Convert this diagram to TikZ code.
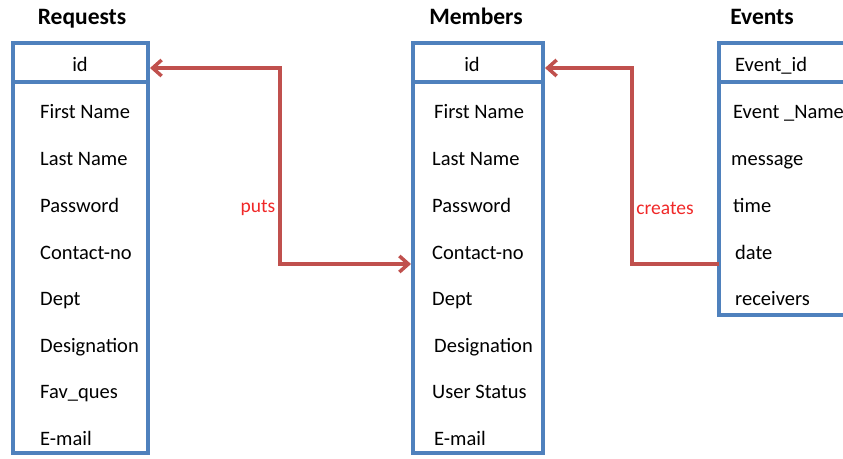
\documentclass[tikz,border=0pt]{standalone}
\usepackage{fontspec}
\setmainfont{Carlito}
\usetikzlibrary{arrows.meta,shadows}
\definecolor{tblue}{HTML}{4F81BD}
\definecolor{tred}{HTML}{C0504D}
\definecolor{lred}{HTML}{F02828}
\begin{document}
\begin{tikzpicture}[x=1pt,y=-1pt,
  table/.style={draw=tblue,line width=3.5pt,fill=white,anchor=north west,inner sep=0,outer sep=0,
    drop shadow={opacity=0.22,shadow xshift=1.5pt,shadow yshift=-2pt}},
  field/.style={anchor=west,inner sep=0,text height=13pt,text depth=4pt,
    font=\fontsize{20.5}{24}\selectfont},
  keyfield/.style={inner sep=0,text height=13pt,text depth=4pt,
    font=\fontsize{20.5}{24}\selectfont},
  title/.style={inner sep=0,text height=15pt,text depth=5pt,
    font=\bfseries\fontsize{23.5}{28}\selectfont},
  link/.style={draw=tred,line width=3.5pt,line join=miter},
  tip/.tip={Straight Barb[length=9pt,width=16pt,line width=3.5pt]},
  rel/.style={inner sep=0,text=lred,font=\fontsize{19.5}{23}\selectfont}]
\useasboundingbox (0,0) rectangle (843,458);
\clip (0,0) rectangle (843,458);

% table titles
\node[title] (treq) at (82,19) {Requests};
\node[title] (tmem) at (476,19) {Members};
\node[title] (tev)  at (762,19) {Events};

% Requests table
\node[table,minimum width=135pt,minimum height=371pt] (reqbody) at (13,82) {};
\node[table,minimum width=135pt,minimum height=39pt] (reqid) at (13,43) {};
\node[keyfield] (reqkey) at (80,67) {id};
\node[field] (r1) at (40,114) {First Name};
\node[field] (r2) at (40,161) {Last Name};
\node[field] (r3) at (40,208) {Password};
\node[field] (r4) at (40,255) {Contact-no};
\node[field] (r5) at (40,301) {Dept};
\node[field] (r6) at (40,348) {Designation};
\node[field] (r7) at (40,394) {Fav\_ques};
\node[field] (r8) at (40,441) {E-mail};

% Members table
\node[table,minimum width=130pt,minimum height=371pt] (membody) at (413,82) {};
\node[table,minimum width=130pt,minimum height=39pt] (memid) at (413,43) {};
\node[keyfield] (memkey) at (472,67) {id};
\node[field] (m1) at (434,114) {First Name};
\node[field] (m2) at (432,161) {Last Name};
\node[field] (m3) at (432,208) {Password};
\node[field] (m4) at (432,255) {Contact-no};
\node[field] (m5) at (432,301) {Dept};
\node[field] (m6) at (434,348) {Designation};
\node[field] (m7) at (432,394) {User Status};
\node[field] (m8) at (434,441) {E-mail};

% Events table (runs past the right edge)
\node[table,minimum width=150pt,minimum height=233pt] (evbody) at (719,82) {};
\node[table,minimum width=150pt,minimum height=39pt] (evid) at (719,43) {};
\node[field] (evkey) at (735,67) {Event\_id};
\node[field] (e1) at (733,114) {Event \_Name};
\node[field] (e2) at (731,161) {message};
\node[field] (e3) at (733,208) {time};
\node[field] (e4) at (735,255) {date};
\node[field] (e5) at (735,301) {receivers};

% relationships
\draw[link,tip-tip] ([shift={(2pt,-5.5pt)}]reqid.east) -- (280,68) -- (280,264)
  -- ([shift={(-2pt,3.5pt)}]membody.west);
\node[rel] (puts) at (258,208) {puts};

\draw[link,-tip] ([yshift=-65.5pt]evbody.west) -- (632,264) -- (632,68)
  -- ([shift={(2pt,-5.5pt)}]memid.east);
\node[rel] (creates) at (665,208) {creates};
\end{tikzpicture}
\end{document}
